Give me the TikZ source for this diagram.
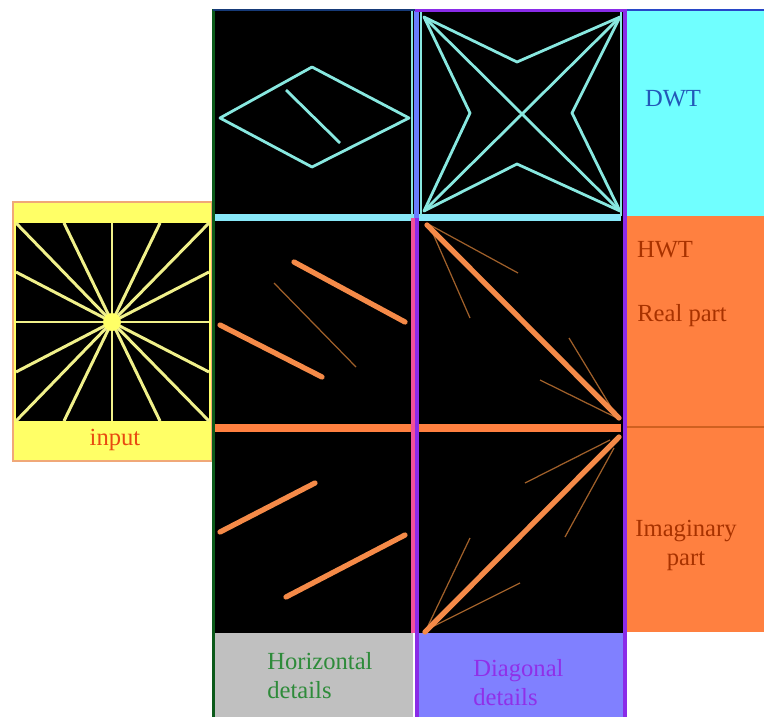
\documentclass[tikz,border=0pt]{standalone}
\usepackage{fontspec}
\setmainfont{Liberation Serif}
\definecolor{cyanp}{HTML}{70FFFF}
\definecolor{orp}{HTML}{FF8040}
\definecolor{yel}{HTML}{FFFF66}
\definecolor{grayp}{HTML}{C0C0C0}
\definecolor{lav}{HTML}{8080FF}
\definecolor{linecyan}{HTML}{88E8E0}
\definecolor{rayy}{HTML}{F0F08A}
\definecolor{orline}{HTML}{F58A48}
\definecolor{thinorc}{HTML}{A0602A}
\definecolor{gborder}{HTML}{0B5A1A}
\definecolor{tborder}{HTML}{163A78}
\definecolor{purp}{HTML}{8A2BE8}
\definecolor{pinkb}{HTML}{F0509A}
\definecolor{blueb}{HTML}{6A7CFF}
\definecolor{band}{HTML}{88E8F8}
\definecolor{inbord}{HTML}{F0A878}
\definecolor{darkor}{HTML}{D06020}
\definecolor{dwtc}{HTML}{2358B8}
\definecolor{hwtc}{HTML}{A83200}
\definecolor{inputc}{HTML}{E84A10}
\definecolor{horc}{HTML}{2E8B3A}
\definecolor{diagc}{HTML}{9030E8}
\definecolor{topblue}{HTML}{2848C8}
\tikzset{
  cyanline/.style={draw=linecyan, line width=1.6pt, line join=round},
  ray/.style={draw=rayy, line width=1.7pt},
  thickor/.style={draw=orline, line width=3pt, line cap=round},
  thinor/.style={draw=thinorc, line width=0.7pt},
  lbl/.style={font=\fontsize{14}{16.5}\selectfont, inner sep=0pt},
}
\begin{document}
\begin{tikzpicture}[x=0.02cm,y=-0.02cm]
\useasboundingbox (0,0) rectangle (764,717);
\fill[white] (0,0) rectangle (764,717);

% ---------- input box ----------
\draw[fill=yel, draw=inbord, line width=1.2pt] (13,202) rectangle (212,461);
\fill[black] (16,223) rectangle (209,421);
\coordinate (c) at (112,322);
\foreach \p in {(16,223),(64,223),(112,223),(160,223),(209,223),(209,272),(209,322),(209,372),
                (209,421),(160,421),(112,421),(64,421),(16,421),(16,372),(16,322),(16,272)}
  \draw[ray] (c) -- \p;
\fill[yel] (c) circle (9);
\node[lbl, text=inputc] (input) at (115,440) {input};

% ---------- column 3 ----------
\fill[cyanp] (627,10) rectangle (764,216);
\fill[orp] (627,216) rectangle (764,632);
\draw[darkor, line width=0.6pt] (627,427) -- (764,427);

% ---------- column 1 ----------
\fill[black] (215,10) rectangle (411,214);
\fill[band] (215,214) rectangle (411,221);
\fill[black] (215,221) rectangle (411,424);
\fill[orp] (215,424) rectangle (411,432);
\fill[black] (215,432) rectangle (411,633);
\fill[grayp] (215,633) rectangle (413,717);

% ---------- column 2 ----------
\fill[black] (411,10) rectangle (623,633);
\fill[band] (411,214) rectangle (621,221);
\fill[orp] (411,424) rectangle (621,432);
\fill[lav] (415,633) rectangle (627,717);

% frames
\draw[linecyan, line width=1.4pt] (412,10) -- (412,218);
\draw[blueb, line width=2.6pt] (416.5,10) -- (416.5,218);
\draw[linecyan, line width=1.2pt] (421,12) -- (421,216);
\draw[linecyan, line width=1.2pt] (621,12) -- (621,216);
\draw[pinkb, line width=1.8pt] (413,218) -- (413,633);
\draw[purp, line width=1.8pt] (417,218) -- (417,717);
\draw[purp, line width=2.2pt] (625,9) -- (625,717);
\draw[gborder, line width=1.8pt] (213.5,9) -- (213.5,717);
\draw[tborder, line width=1.6pt] (213,10) -- (415,10);
\draw[purp, line width=1.6pt] (415,10.5) -- (627,10.5);
\draw[topblue, line width=1.4pt] (627,10) -- (764,10);

% ---------- DWT horizontal ----------
\draw[cyanline] (220,118) -- (312,67) -- (409,118) -- (312,167) -- cycle;
\draw[cyanline] (286,90) -- (340,143);

% ---------- DWT diagonal ----------
\coordinate (tl) at (424,17);
\coordinate (tr) at (620,17);
\coordinate (br) at (620,211);
\coordinate (bl) at (424,211);
\draw[cyanline] (tl) -- (517,62) -- (tr) -- (572,113) -- (br) -- (517,164) -- (bl) -- (470,113) -- cycle;
\draw[cyanline] (tl) -- (br);
\draw[cyanline] (tr) -- (bl);

% ---------- HWT real, horizontal ----------
\draw[thinor] (274,283) -- (356,367);
\draw[thickor] (294,262) -- (405,322);
\draw[thickor] (220,325) -- (322,377);

% ---------- HWT real, diagonal ----------
\draw[thinor] (430,225) -- (518,273);
\draw[thinor] (431,229) -- (470,318);
\draw[thinor] (569,338) -- (617,417);
\draw[thinor] (540,380) -- (617,418);
\draw[thickor] (427,225) -- (619,418);

% ---------- HWT imaginary, horizontal ----------
\draw[thickor] (220,532) -- (315,483);
\draw[thickor] (286,597) -- (405,535);

% ---------- HWT imaginary, diagonal ----------
\draw[thinor] (525,483) -- (610,440);
\draw[thinor] (565,537) -- (614,448);
\draw[thinor] (470,538) -- (427,628);
\draw[thinor] (520,583) -- (430,628);
\draw[thickor] (425,632) -- (619,437);

% ---------- labels ----------
\node[lbl, text=dwtc] (dwt) at (673,99) {DWT};
\node[lbl, text=hwtc] (hwt) at (665,250) {HWT};
\node[lbl, text=hwtc] (real) at (682,316) {Real part};
\node[lbl, text=hwtc, align=center] (imag) at (686,545) {Imaginary\\part};
\node[lbl, text=horc, align=left, anchor=west] (horiz) at (267,676) {Horizontal\\details};
\node[lbl, text=diagc, align=left, anchor=west] (diag) at (473,683) {Diagonal\\details};
\end{tikzpicture}
\end{document}
